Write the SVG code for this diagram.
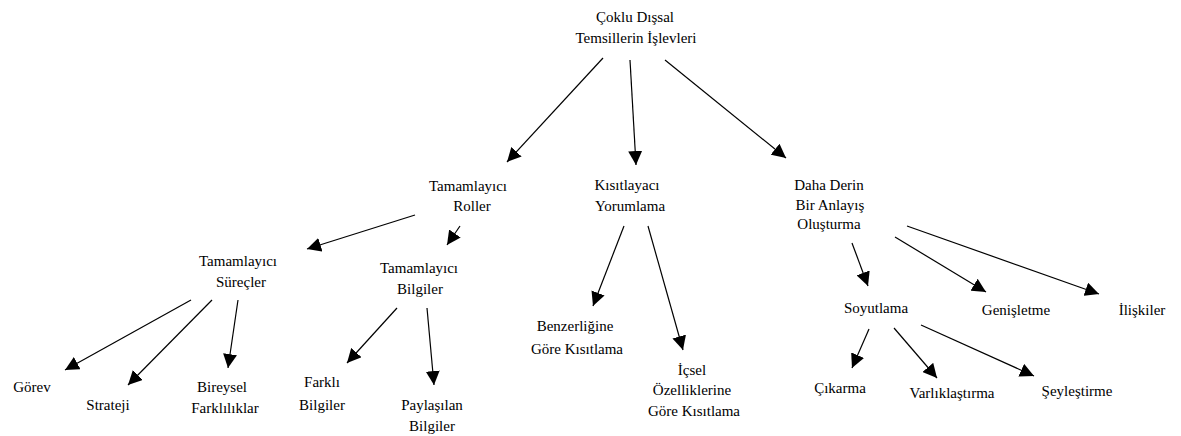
<svg xmlns="http://www.w3.org/2000/svg" width="1181" height="436" viewBox="0 0 1181 436">
<defs>
<marker id="ah" viewBox="0 0 10 10" refX="10" refY="5" markerWidth="14" markerHeight="14" markerUnits="userSpaceOnUse" orient="auto">
<path d="M0,0 L10,5 L0,10 z" fill="#000"/>
</marker>
<style>
.t text{font-size:15px;fill:#000;text-anchor:middle}
.c line{stroke:#000;stroke-width:1.2;marker-end:url(#ah)}
</style>
</defs>
<rect width="1181" height="436" fill="#fff"/>
<g class="c" id="connectors">
<line x1="603" y1="58" x2="507" y2="162"/>
<line x1="630" y1="60" x2="636" y2="165"/>
<line x1="665" y1="60" x2="786" y2="158"/>
<line x1="415" y1="215" x2="307" y2="249"/>
<line x1="460" y1="226" x2="447" y2="245"/>
<line x1="191" y1="300" x2="65" y2="370"/>
<line x1="212" y1="300" x2="128" y2="385"/>
<line x1="238" y1="300" x2="228" y2="368"/>
<line x1="397" y1="308" x2="347" y2="363"/>
<line x1="427" y1="308" x2="434" y2="385"/>
<line x1="624" y1="226" x2="593" y2="306"/>
<line x1="648" y1="226" x2="683" y2="350"/>
<line x1="852" y1="243" x2="868" y2="286"/>
<line x1="895" y1="237" x2="986" y2="292"/>
<line x1="907" y1="226" x2="1099" y2="294"/>
<line x1="869" y1="329" x2="852" y2="368"/>
<line x1="894" y1="328" x2="937" y2="378"/>
<line x1="921" y1="325" x2="1034" y2="376"/>
</g>
<g class="t" font-family="Liberation Serif, Times New Roman, DejaVu Serif, serif">
<g id="root"><text x="635" y="22">Çoklu Dışsal</text><text x="636" y="43">Temsillerin İşlevleri</text></g>
<g id="roller"><text x="468" y="191">Tamamlayıcı</text><text x="472" y="211">Roller</text></g>
<g id="kisitlayaci"><text x="627" y="190">Kısıtlayacı</text><text x="630" y="211">Yorumlama</text></g>
<g id="dahaderin"><text x="829" y="190">Daha Derin</text><text x="830" y="210">Bir Anlayış</text><text x="829" y="229">Oluşturma</text></g>
<g id="surecler"><text x="238" y="266">Tamamlayıcı</text><text x="241" y="287">Süreçler</text></g>
<g id="bilgiler"><text x="419" y="273">Tamamlayıcı</text><text x="420" y="294">Bilgiler</text></g>
<g id="gorev"><text x="32" y="392">Görev</text></g>
<g id="strateji"><text x="108" y="410">Strateji</text></g>
<g id="bireysel"><text x="222" y="392">Bireysel</text><text x="225" y="413">Farklılıklar</text></g>
<g id="farkli"><text x="322" y="387">Farklı</text><text x="322" y="410">Bilgiler</text></g>
<g id="paylasilan"><text x="432" y="410">Paylaşılan</text><text x="432" y="431">Bilgiler</text></g>
<g id="benzerligine"><text x="575" y="331">Benzerliğine</text><text x="577" y="354">Göre Kısıtlama</text></g>
<g id="icsel"><text x="692" y="375">İçsel</text><text x="692" y="395">Özelliklerine</text><text x="694" y="416">Göre Kısıtlama</text></g>
<g id="soyutlama"><text x="876" y="313">Soyutlama</text></g>
<g id="genisletme"><text x="1016" y="315">Genişletme</text></g>
<g id="iliskiler"><text x="1142" y="315">İlişkiler</text></g>
<g id="cikarma"><text x="840" y="393">Çıkarma</text></g>
<g id="varliklastirma"><text x="952" y="398">Varlıklaştırma</text></g>
<g id="seylestirme"><text x="1077" y="396">Şeyleştirme</text></g>
</g>
</svg>
